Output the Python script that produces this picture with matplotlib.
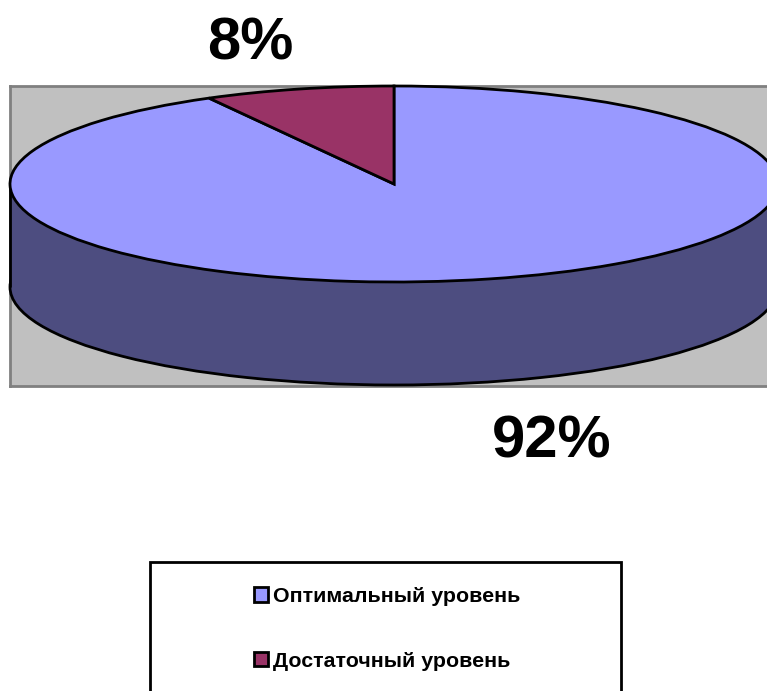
import matplotlib
matplotlib.use('Agg')
import matplotlib.pyplot as plt
from matplotlib.patches import Rectangle

labels = ['Оптимальный уровень', 'Достаточный уровень']
values = [92, 8]
top_colors = ['#9999ff', '#993366']
side_color = '#4d4d80'

W, H = 767, 691
plt.rcParams['font.family'] = ['Liberation Sans', 'DejaVu Sans']

fig = plt.figure(figsize=(W / 100, H / 100), dpi=100, facecolor='white')

# plot area in pixels, the pie runs off the right edge like in the original
ax = fig.add_axes([10 / W, (H - 386) / H, 768 / W, 300 / H])

radius_px = 98
depth = 103 / radius_px

# lower disc and the side wall first, then the top disc over them
lower, _ = ax.pie([sum(values)], colors=[side_color], center=(0, -depth),
                  wedgeprops=dict(edgecolor='black', linewidth=2))
for w in lower:
    w.set_zorder(1.5)
    w.set_clip_on(False)
ax.add_patch(Rectangle((-1, -depth), 2, depth, facecolor=side_color, edgecolor='none', zorder=2))
ax.plot([-1, -1], [-depth, 0], color='black', lw=2, zorder=3, clip_on=False, solid_capstyle='butt')
ax.plot([1, 1], [-depth, 0], color='black', lw=2, zorder=3, clip_on=False, solid_capstyle='butt')
wedges, _ = ax.pie(values, colors=top_colors, startangle=90, counterclock=False,
                   wedgeprops=dict(edgecolor='black', linewidth=2))
for w in wedges:
    w.set_zorder(4)
    w.set_clip_on(False)

ax.set_aspect('auto')
ax.set_xlim(-1, 1)
ax.set_ylim(1 - 300 / radius_px, 1)
ax.set_frame_on(True)
ax.set_facecolor('#c0c0c0')
for s in ax.spines.values():
    s.set_color('#808080')
    s.set_linewidth(2)
    s.set_zorder(1)

fig.text(250 / W, 1 - 44 / H, f'{values[1]}%', fontsize=43, fontweight='bold',
         ha='center', va='center')
fig.text(551.5 / W, 1 - 442 / H, f'{values[0]}%', fontsize=43, fontweight='bold',
         ha='center', va='center')

# legend box is cut by the bottom of the image
fig.add_artist(Rectangle((149.5 / W, -0.02), 471 / W, 0.02 + (H - 562) / H,
                         transform=fig.transFigure, facecolor='white',
                         edgecolor='black', linewidth=2))
fig.legend(wedges, labels, loc='upper left', bbox_to_anchor=(254 / W, 1 - 587 / H),
           frameon=False, prop=dict(size=15.4, weight='bold'), handlelength=0.65,
           handleheight=0.65, handletextpad=0.25, labelspacing=2.13,
           borderpad=0, borderaxespad=0)

fig.savefig('out.png', dpi=100)
